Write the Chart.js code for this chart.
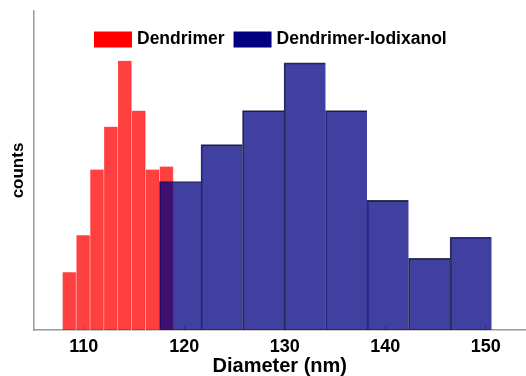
<!DOCTYPE html>
<html>
<head>
<meta charset="utf-8">
<script src="https://cdn.jsdelivr.net/npm/chart.js@4/dist/chart.umd.min.js"></script>
<style>
  html, body { margin: 0; padding: 0; background: #fff; }
  #wrap { width: 526px; height: 376px; position: relative; }
</style>
</head>
<body>
<div id="wrap"><canvas id="histChart"></canvas></div>
<script>
// Histogram data (bin centres in nm, heights in arbitrary counts)
const seriesNames = ['Dendrimer', 'Dendrimer-Iodixanol'];
const dendrimerBins = [108.58, 109.96, 111.34, 112.72, 114.10, 115.48, 116.86, 118.24];
const dendrimerCounts = [5.8, 9.5, 16.1, 20.4, 27.0, 22.0, 16.1, 16.4];
const iodixanolBins = [119.60, 123.73, 127.86, 131.99, 136.12, 140.25, 144.38, 148.51];
const iodixanolCounts = [14.9, 18.6, 22.0, 26.8, 22.0, 13.0, 7.2, 9.3];
const xTicks = [110, 120, 130, 140, 150];

const FONT = '"Liberation Sans", Arial, sans-serif';
Chart.defaults.font.family = FONT;
Chart.defaults.color = '#000';

function toPoints(xs, ys) {
    return xs.map((x, i) => ({ x: x, y: ys[i] }));
}

function fixedTicks(scale) {
    scale.ticks = xTicks.map(v => ({ value: v }));
}

// legend sits inside the axes, so draw it ourselves
const insideLegend = {
    id: 'insideLegend',
    afterDatasetsDraw(chart) {
        const ctx = chart.ctx;
        const area = chart.chartArea;
        ctx.save();
        ctx.font = 'bold 17.5px ' + FONT;
        ctx.textBaseline = 'middle';
        let x = area.left + 60.5;
        const y = area.top + 28.5;
        chart.data.datasets.forEach(ds => {
            ctx.fillStyle = ds.legendColor;
            ctx.fillRect(x, y - 8, 38, 16);
            x += 38 + 5;
            ctx.fillStyle = '#000';
            ctx.fillText(ds.label, x, y);
            x += ctx.measureText(ds.label).width + 9;
        });
        ctx.restore();
    }
};

const ctx = document.getElementById('histChart').getContext('2d');
new Chart(ctx, {
    type: 'bar',
    data: {
        datasets: [{
            label: seriesNames[0],
            data: toPoints(dendrimerBins, dendrimerCounts),
            xAxisID: 'x',
            backgroundColor: 'rgba(255, 0, 0, 0.75)',
            borderColor: 'rgba(255, 185, 185, 0.9)',
            borderWidth: { left: 0, right: 1, top: 0, bottom: 0 },
            borderSkipped: false,
            grouped: false,
            categoryPercentage: 1,
            barPercentage: 1,
            legendColor: '#ff0000',
            order: 2
        }, {
            label: seriesNames[1],
            data: toPoints(iodixanolBins, iodixanolCounts),
            xAxisID: 'x2',
            backgroundColor: 'rgba(0, 0, 128, 0.75)',
            borderColor: 'rgba(20, 20, 50, 0.85)',
            borderWidth: { left: 1, right: 0, top: 1, bottom: 0 },
            borderSkipped: false,
            grouped: false,
            categoryPercentage: 1,
            barPercentage: 1,
            legendColor: '#000080',
            order: 1
        }]
    },
    options: {
        responsive: true,
        maintainAspectRatio: false,
        animation: false,
        layout: { padding: { top: 11, right: 0, bottom: 0, left: 0 } },
        plugins: {
            legend: { display: false },
            tooltip: { enabled: false }
        },
        scales: {
            x: {
                type: 'linear',
                min: 105,
                max: 154,
                offset: false,
                afterBuildTicks: fixedTicks,
                afterFit: (scale) => { scale.height = 46; },
                grid: {
                    display: true,
                    offset: false,
                    drawOnChartArea: false,
                    drawTicks: true,
                    tickLength: -4,
                    tickColor: 'rgba(0, 0, 0, 0.35)'
                },
                border: { display: true, color: '#9a9a9a', width: 1.5 },
                ticks: {
                    font: { size: 18, weight: 'bold', lineHeight: 1 },
                    padding: 12.3,
                    maxRotation: 0
                },
                title: {
                    display: true,
                    text: 'Diameter (nm)',
                    font: { size: 20, weight: 'bold', lineHeight: 1 },
                    padding: { top: 0, bottom: 0 }
                }
            },
            x2: {
                type: 'linear',
                display: false,
                min: 105,
                max: 154,
                offset: false,
                afterBuildTicks: fixedTicks
            },
            y: {
                min: 0,
                max: 32,
                grid: { display: false, drawTicks: false },
                border: { display: true, color: '#9a9a9a', width: 1.5 },
                ticks: { display: false },
                title: {
                    display: true,
                    text: 'counts',
                    font: { size: 17, weight: 'bold', lineHeight: 1.2 },
                    padding: { top: 8.3, bottom: 4.8 }
                }
            }
        }
    },
    plugins: [insideLegend]
});
</script>
</body>
</html>
